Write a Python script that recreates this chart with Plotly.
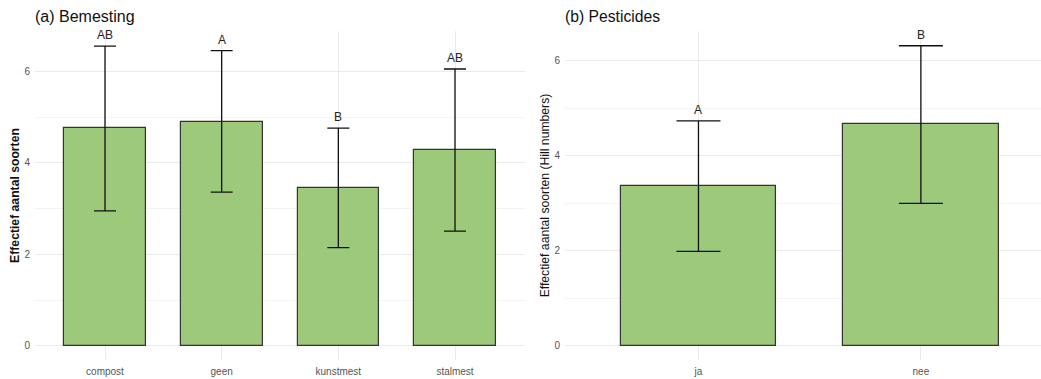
import plotly.graph_objects as go

# Panel (a) Bemesting
bem_cats = ["compost", "geen", "kunstmest", "stalmest"]
bem_mean = [4.76, 4.89, 3.45, 4.29]
bem_lower = [2.95, 3.36, 2.15, 2.51]
bem_upper = [6.55, 6.45, 4.76, 6.05]
bem_letters = ["AB", "A", "B", "AB"]

# Panel (b) Pesticides
pes_cats = ["ja", "nee"]
pes_mean = [3.37, 4.67]
pes_lower = [1.99, 3.00]
pes_upper = [4.74, 6.32]
pes_letters = ["A", "B"]

y_ticks = [0, 2, 4, 6]

FILL = "#9dc97b"
EDGE = "#333333"
FONT = "Liberation Sans, Arial, sans-serif"

W, H = 1041, 379

def px_x(p):
    return p / W

def px_y(p):
    return 1 - p / H

fig = go.Figure()

fig.add_trace(go.Bar(
    x=bem_cats, y=bem_mean, width=0.7,
    marker=dict(color=FILL, line=dict(color=EDGE, width=1.2)),
    error_y=dict(type="data", symmetric=False,
                 array=[u - m for u, m in zip(bem_upper, bem_mean)],
                 arrayminus=[m - l for m, l in zip(bem_mean, bem_lower)],
                 color="#111111", thickness=1.3, width=11),
    xaxis="x", yaxis="y", showlegend=False, hoverinfo="skip"))

fig.add_trace(go.Bar(
    x=pes_cats, y=pes_mean, width=0.7,
    marker=dict(color=FILL, line=dict(color=EDGE, width=1.2)),
    error_y=dict(type="data", symmetric=False,
                 array=[u - m for u, m in zip(pes_upper, pes_mean)],
                 arrayminus=[m - l for m, l in zip(pes_mean, pes_lower)],
                 color="#111111", thickness=1.3, width=22),
    xaxis="x2", yaxis="y2", showlegend=False, hoverinfo="skip"))

annotations = []
for c, u, t in zip(bem_cats, bem_upper, bem_letters):
    annotations.append(dict(x=c, y=u, xref="x", yref="y", text=t, showarrow=False,
                            yanchor="bottom", yshift=2,
                            font=dict(family=FONT, size=12, color="#222222")))
for c, u, t in zip(pes_cats, pes_upper, pes_letters):
    annotations.append(dict(x=c, y=u, xref="x2", yref="y2", text=t, showarrow=False,
                            yanchor="bottom", yshift=2,
                            font=dict(family=FONT, size=12, color="#222222")))

annotations.append(dict(x=px_x(33), y=px_y(17), xref="paper", yref="paper",
                        text="(a) Bemesting", showarrow=False, xanchor="left", yanchor="middle",
                        font=dict(family=FONT, size=16, color="#111111")))
annotations.append(dict(x=px_x(563), y=px_y(17), xref="paper", yref="paper",
                        text="(b) Pesticides", showarrow=False, xanchor="left", yanchor="middle",
                        font=dict(family=FONT, size=15.7, color="#111111")))

grid_major = "#ebebeb"
grid_minor = "#f4f4f4"

def yaxis(rng, domain, title, anchor, weight):
    return dict(range=rng, domain=domain, anchor=anchor, automargin=False,
                tickvals=y_ticks, ticktext=[str(v) for v in y_ticks],
                showgrid=True, gridcolor=grid_major, gridwidth=1,
                minor=dict(dtick=1, tick0=0, showgrid=True, gridcolor=grid_minor, gridwidth=0.8),
                zeroline=False, showline=False, ticks="", ticklabelstandoff=4,
                tickfont=dict(family=FONT, size=10, color="#555555"),
                title=dict(text=title, font=dict(family=FONT, size=12.2, color="#111111",
                                                 weight=weight),
                           standoff=2))

def xaxis(rng, domain, anchor):
    return dict(range=rng, domain=domain, anchor=anchor, type="category", automargin=False,
                showgrid=True, gridcolor=grid_major, gridwidth=1,
                zeroline=False, showline=False, ticks="", ticklabelstandoff=4,
                tickfont=dict(family=FONT, size=10, color="#555555"))

ydom = [px_y(360), px_y(31)]

fig.update_layout(
    width=W, height=H,
    margin=dict(l=0, r=0, t=0, b=0),
    paper_bgcolor="white", plot_bgcolor="white",
    bargap=0,
    xaxis=xaxis([-0.6, 3.6], [px_x(35), px_x(525)], "y"),
    yaxis=yaxis([-0.306, 6.88], ydom, "Effectief aantal soorten", "x", "bold"),
    xaxis2=xaxis([-0.6, 1.54], [px_x(565), 1.0], "y2"),
    yaxis2=yaxis([-0.295, 6.63], ydom, "Effectief aantal soorten (Hill numbers)", "x2", "normal"),
    annotations=annotations,
)

fig.write_html("out.html",
               config={"displayModeBar": False},
               post_script="document.body.style.margin='0';document.body.style.overflow='hidden';")
